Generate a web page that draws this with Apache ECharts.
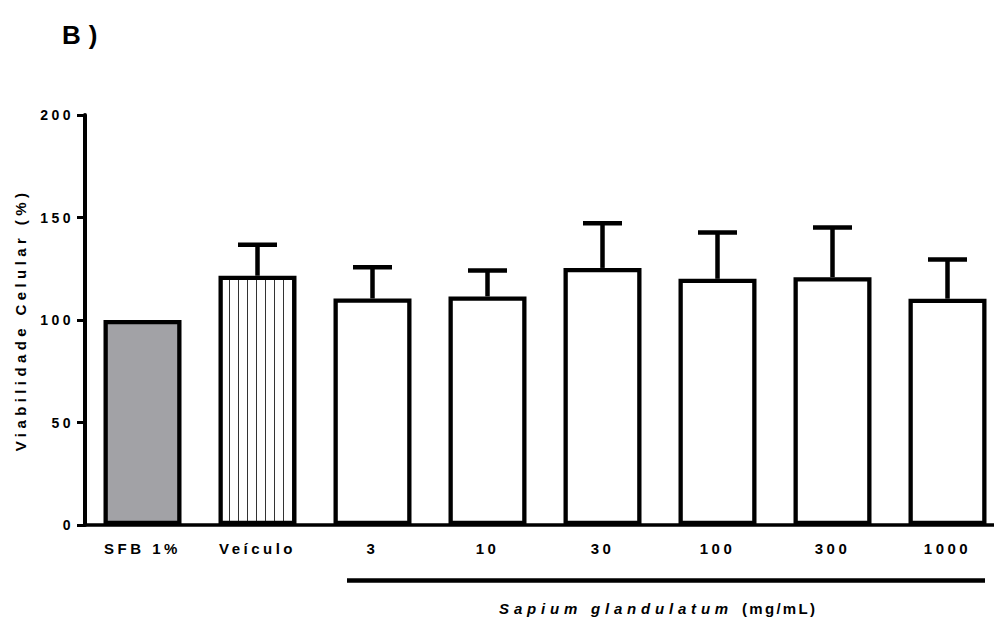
<!DOCTYPE html>
<html>
<head>
<meta charset="utf-8">
<script src="https://cdn.jsdelivr.net/npm/echarts@6/dist/echarts.min.js"></script>
<style>
html, body { margin: 0; padding: 0; background: #fff; }
#chart { width: 994px; height: 621px; }
</style>
</head>
<body>
<div id="chart"></div>
<script>
// dados
var categories = ['SFB 1%', 'Veículo', '3', '10', '30', '100', '300', '1000'];
var means = [100, 121.6, 110.5, 111.5, 125.4, 120.1, 120.9, 110.4];
var errTops = [null, 136.7, 125.7, 124.1, 147.2, 142.7, 145.1, 129.5];
var yMin = 0, yMax = 200, yStep = 50;

var FONT = 'Liberation Sans, Arial, sans-serif';

// hachura vertical do veículo
var hatch = document.createElement('canvas');
hatch.width = 9; hatch.height = 10;
var hc = hatch.getContext('2d');
hc.fillStyle = '#fff'; hc.fillRect(0, 0, 9, 10);
hc.fillStyle = '#333'; hc.fillRect(4, 0, 1, 10);

var fills = ['#A2A2A6', { image: hatch, repeat: 'repeat', imageWidth: 9, imageHeight: 10 }];

var barData = means.map(function (v, i) {
	return { value: v, itemStyle: { color: fills[i] || '#fff' } };
});
var errData = [];
means.forEach(function (v, i) {
	if (errTops[i] != null) errData.push([i, v, errTops[i]]);
});

var chart = echarts.init(document.getElementById('chart'), null, { renderer: 'svg' });
var option = {
	animation: false,
	grid: { left: 85, top: 115, width: 920, height: 410, outerBoundsMode: 'none' },
	xAxis: {
		type: 'category',
		data: categories,
		axisLine: { lineStyle: { color: '#000', width: 3.5 } },
		axisTick: { alignWithLabel: true, length: 7, lineStyle: { color: '#000', width: 3 } },
		axisLabel: { interval: 0, margin: 16, color: '#000', fontSize: 15, fontWeight: 'bold', fontFamily: FONT }
	},
	yAxis: {
		type: 'value',
		min: yMin, max: yMax, interval: yStep,
		name: 'Viabilidade Celular (%)',
		nameLocation: 'middle',
		nameGap: 57,
		nameTextStyle: { color: '#000', fontSize: 15, fontWeight: 'bold', fontFamily: FONT },
		splitLine: { show: false },
		axisLine: { show: true, lineStyle: { color: '#000', width: 4 } },
		axisTick: { show: true, length: 8, lineStyle: { color: '#000', width: 3 } },
		axisLabel: { margin: 11, color: '#000', fontSize: 14, fontWeight: 'bold', fontFamily: FONT }
	},
	series: [{
		type: 'bar',
		data: barData,
		barWidth: 78,
		itemStyle: { borderColor: '#000', borderWidth: 4.3 },
		z: 2
	}, {
		type: 'custom',
		data: errData,
		z: 3,
		renderItem: function (params, api) {
			var base = api.coord([api.value(0), api.value(1)]);
			var top = api.coord([api.value(0), api.value(2)]);
			var half = 19.5;
			return {
				type: 'group',
				children: [{
					type: 'line',
					shape: { x1: base[0], y1: base[1], x2: top[0], y2: top[1] },
					style: { stroke: '#000', lineWidth: 4.5 }
				}, {
					type: 'line',
					shape: { x1: top[0] - half, y1: top[1], x2: top[0] + half, y2: top[1] },
					style: { stroke: '#000', lineWidth: 4.5 }
				}]
			};
		}
	}],
	graphic: [{
		type: 'text', left: 62, top: 22,
		style: { text: 'B)', fill: '#000', font: 'bold 26px ' + FONT }
	}, {
		type: 'line',
		shape: { x1: 347, y1: 580.5, x2: 985, y2: 580.5 },
		style: { stroke: '#000', lineWidth: 4.5 }
	}, {
		type: 'text', x: 733, y: 608,
		style: { text: 'Sapium glandulatum', fill: '#000', font: 'italic bold 15px ' + FONT, textAlign: 'right', textVerticalAlign: 'middle' }
	}, {
		type: 'text', x: 742, y: 608,
		style: { text: '(mg/mL)', fill: '#000', font: 'bold 15px ' + FONT, textAlign: 'left', textVerticalAlign: 'middle' }
	}]
};
chart.setOption(option);

// espaçamento entre letras, como no Prism
var spacing = { 'B)': 8, 'Sapium glandulatum': 4.8, '(mg/mL)': 2.3, 'Viabilidade Celular (%)': 4.4 };
function applySpacing() {
	var texts = document.querySelectorAll('#chart svg text');
	for (var i = 0; i < texts.length; i++) {
		var s = spacing[texts[i].textContent];
		texts[i].style.letterSpacing = (s == null ? 3.5 : s) + 'px';
	}
}
chart.on('finished', applySpacing);
applySpacing();
setTimeout(applySpacing, 50);
</script>
</body>
</html>
